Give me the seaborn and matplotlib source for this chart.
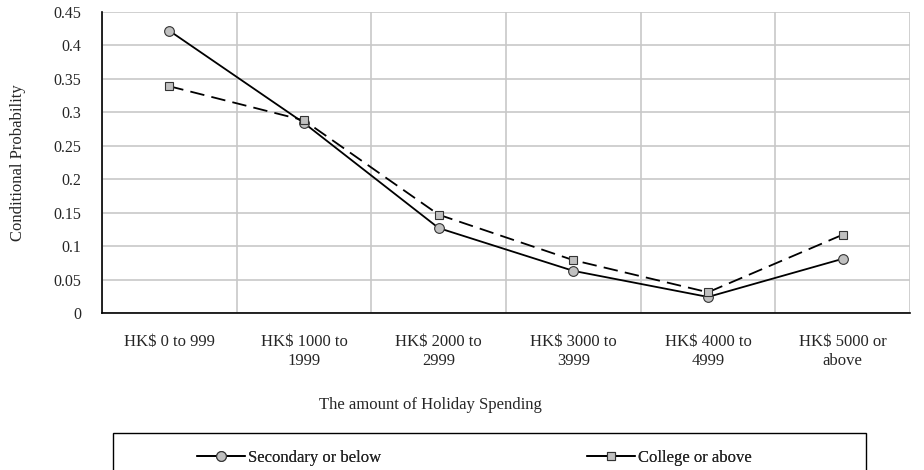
import matplotlib
matplotlib.use("Agg")
import matplotlib.pyplot as plt
from matplotlib.patches import Rectangle
from matplotlib.lines import Line2D
import seaborn as sns
import pandas as pd
import numpy as np

# Spending brackets and conditional probabilities by education level
categories = ["HK$ 0 to 999", "HK$ 1000 to\n1999", "HK$ 2000 to\n2999",
              "HK$ 3000 to\n3999", "HK$ 4000 to\n4999", "HK$ 5000 or\nabove"]
secondary = [0.422, 0.284, 0.127, 0.063, 0.024, 0.081]
college = [0.339, 0.288, 0.147, 0.079, 0.031, 0.117]
series_names = ["Secondary or below", "College or above"]
y_ticks = [0, 0.05, 0.1, 0.15, 0.2, 0.25, 0.3, 0.35, 0.4, 0.45]
y_tick_labels = ["0", "0.05", "0.1", "0.15", "0.2", "0.25", "0.3", "0.35", "0.4", "0.45"]

sns.set_style("white")
plt.rcParams["font.family"] = ["Liberation Serif", "DejaVu Serif"]

df = pd.DataFrame({
    "pos": list(range(len(categories))) * 2,
    "prob": secondary + college,
    "group": [series_names[0]] * len(categories) + [series_names[1]] * len(categories),
})

fig = plt.figure(figsize=(9.24, 4.70), dpi=100)
ax = fig.add_axes([102 / 924, 1 - 313 / 470, (910 - 102) / 924, (313 - 12) / 470])

grid_color = "#c8c8c8"
marker_fill = "#c0c0c0"
marker_edge = "#333333"
styles = {
    series_names[0]: dict(marker="o", ms=7, ls="-"),
    series_names[1]: dict(marker="s", ms=5.5, ls=(0, (8, 4))),
}
for name in series_names:
    sub = df[df["group"] == name]
    st = styles[name]
    sns.lineplot(data=sub, x="pos", y="prob", ax=ax, color="black", lw=1.3,
                 linestyle=st["ls"], marker=st["marker"], markersize=st["ms"],
                 markerfacecolor=marker_fill, markeredgecolor=marker_edge,
                 markeredgewidth=0.8, zorder=3, legend=False)

ax.set_xlim(-0.5, len(categories) - 0.5)
ax.set_ylim(0, 0.45)
ax.set_yticks(y_ticks)
ax.set_yticklabels(y_tick_labels)

# Category labels at centres, tick marks and grid at the bracket boundaries
ax.set_xticks(range(len(categories)))
ax.set_xticklabels(categories, ha="center", linespacing=1.25)
ax.set_xticks(np.arange(-0.5, len(categories), 1.0), minor=True)
ax.tick_params(axis="x", which="major", length=0, pad=15, labelsize=12)
ax.tick_params(axis="x", which="minor", length=5, width=1, color="black", direction="out")
ax.tick_params(axis="y", length=7, width=1, color="black", direction="out",
               labelsize=11.5, pad=8)
ax.grid(True, axis="x", which="minor", color=grid_color, lw=1.2)
ax.grid(True, axis="y", which="major", color=grid_color, lw=1.2)
ax.grid(False, axis="x", which="major")
ax.set_axisbelow(True)

for side in ["top", "right"]:
    ax.spines[side].set_visible(False)
for side in ["left", "bottom"]:
    ax.spines[side].set_color("black")
    ax.spines[side].set_linewidth(1.2)

ax.set_xlabel("")
ax.set_ylabel("")
fig.text(18 / 924, 1 - 163 / 470, "Conditional Probability", rotation=90,
         ha="center", va="center", fontsize=12)
fig.text(430 / 924, 1 - 405 / 470, "The amount of Holiday Spending",
         ha="center", va="center", fontsize=12)

# Legend box running off the bottom edge
fig.patches.append(Rectangle((113 / 924, -0.05), (866 - 113) / 924, 0.05 + (470 - 433) / 470,
                             transform=fig.transFigure, fill=False,
                             edgecolor="black", lw=1.0))
handles = [
    Line2D([], [], color="black", lw=1.3, marker="o", ms=7,
           mfc=marker_fill, mec=marker_edge, mew=0.8),
    Line2D([], [], color="black", lw=1.3, marker="s", ms=5.5,
           mfc=marker_fill, mec=marker_edge, mew=0.8),
]
legend_x = [197, 587]
for h, name, lx in zip(handles, series_names, legend_x):
    leg = fig.legend([h], [name], loc="center left",
                     bbox_to_anchor=(lx / 924, 1 - 458 / 470), frameon=False,
                     handlelength=2.9, handletextpad=0.15, fontsize=12,
                     borderaxespad=0, borderpad=0)
    fig.add_artist(leg)

fig.savefig("out.png", dpi=100)
